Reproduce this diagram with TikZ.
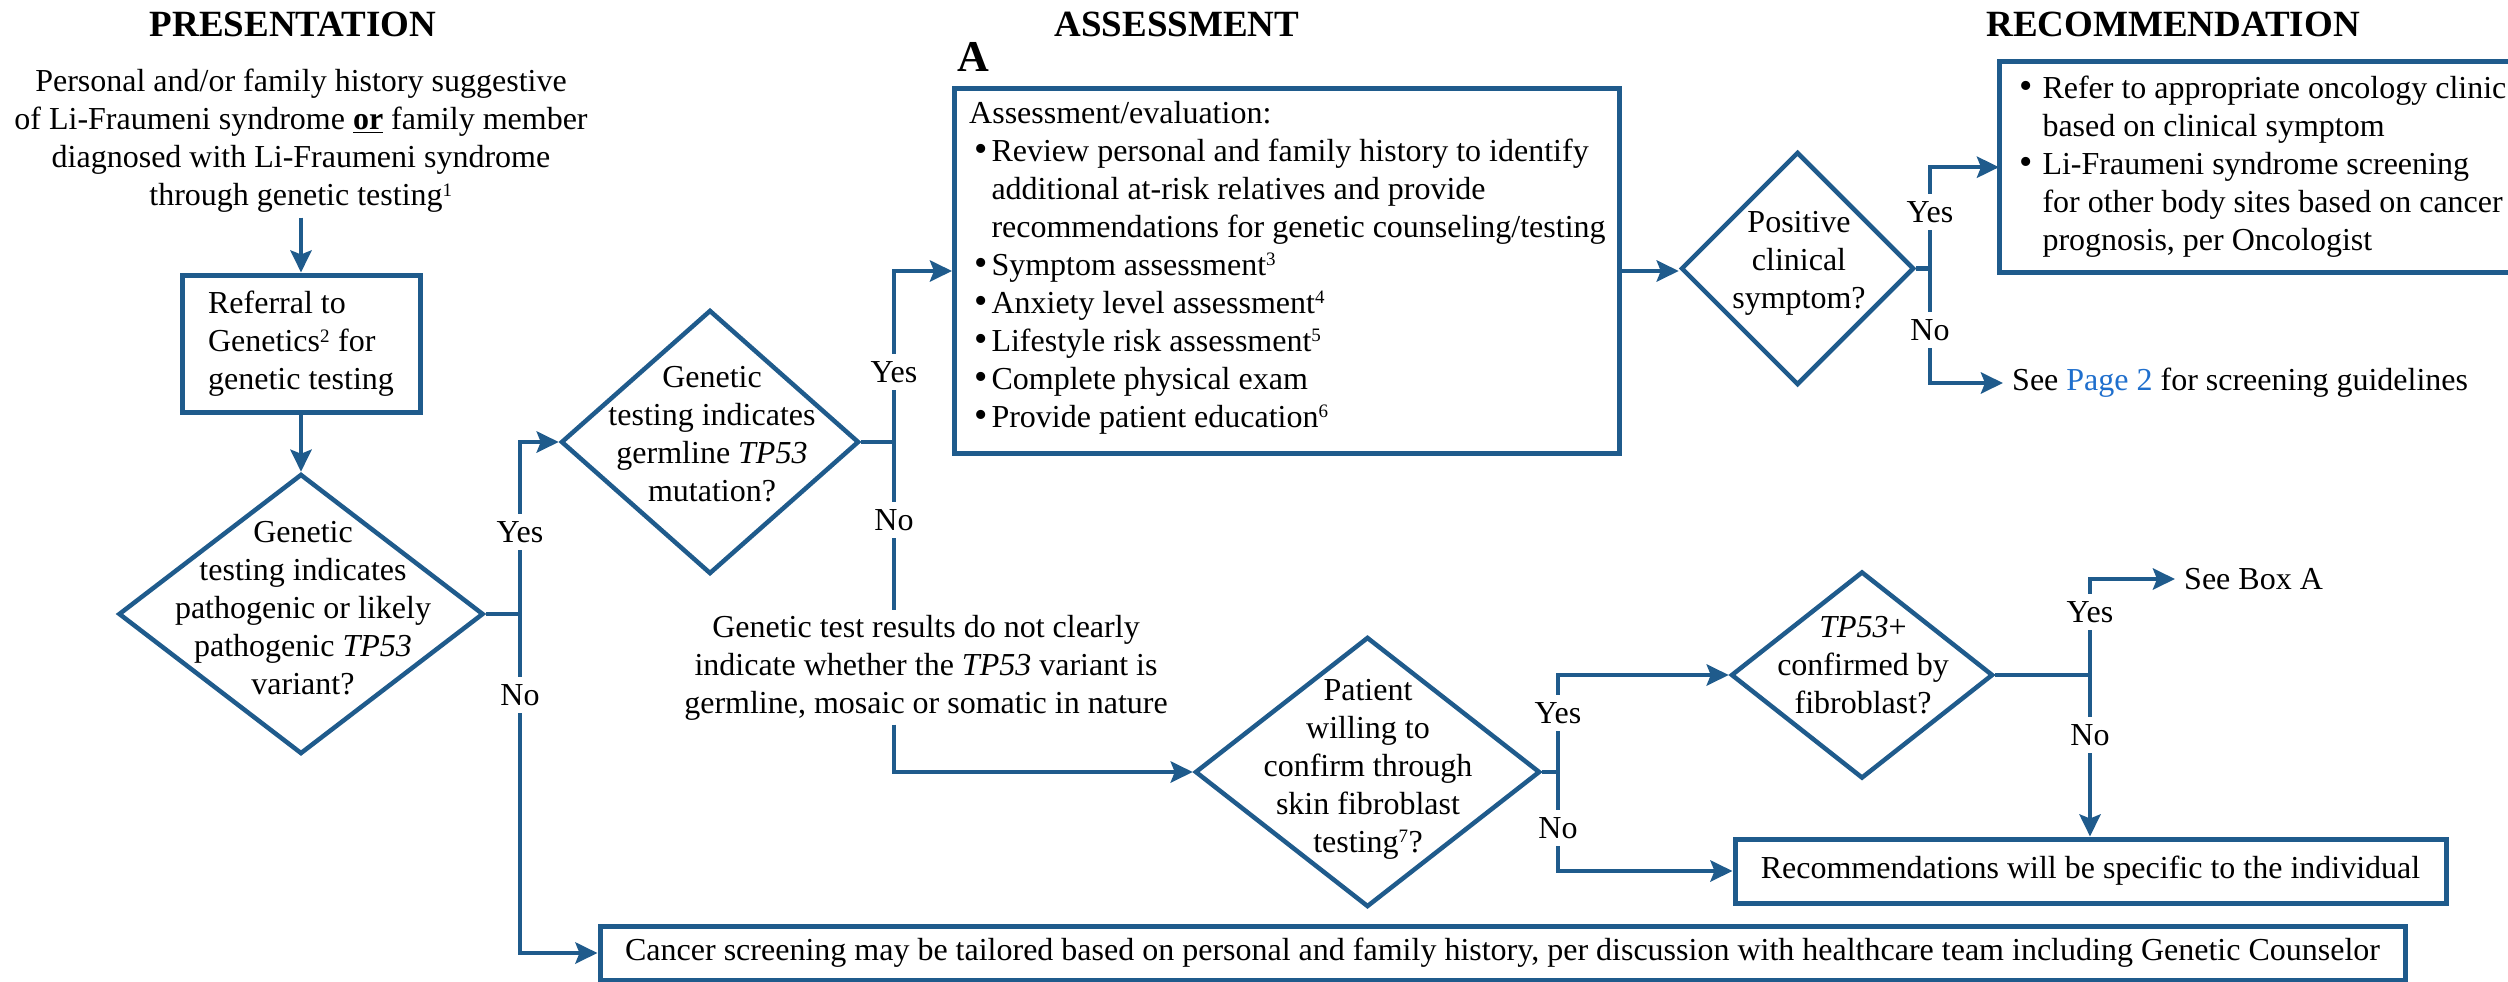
\documentclass[tikz,border=0pt]{standalone}
\usepackage{fontspec}
\setmainfont{Liberation Serif}
\usetikzlibrary{shapes.geometric,arrows.meta}
\definecolor{flow}{RGB}{31,91,140}
\definecolor{linkblue}{RGB}{31,111,205}
\newcommand\ctab[1]{\begin{tabular}[t]{@{}c@{}}#1\end{tabular}}
\newcommand\ltab[1]{\begin{tabular}[t]{@{}l@{}}#1\end{tabular}}
\newcommand\fnmark[1]{\textsuperscript{\fontsize{19}{19}\selectfont #1}}
\newcommand\bul{{\fontsize{38}{38}\selectfont\textbullet}}
\begin{document}
\begin{tikzpicture}[x=1pt,y=-1pt,
  every node/.style={font=\fontsize{32}{38}\selectfont, inner sep=0pt},
  box/.style={draw=flow, line width=5pt, rectangle},
  dia/.style={draw=flow, line width=4.5pt, diamond, inner sep=0pt},
  conn/.style={draw=flow, line width=4.5pt},
  arr/.style={conn, -{Stealth[length=22pt,width=21pt,inset=4pt]}},
  lbl/.style={fill=white, inner xsep=2pt, inner ysep=7pt},
  hdr/.style={font=\fontsize{37}{44}\selectfont\bfseries}]
\useasboundingbox[fill=white] (0,0) rectangle (2508,982);

% headers
\node[hdr, anchor=base] (h1) at (293,37) {PRESENTATION};
\node[hdr, anchor=base] (h2) at (1177,37) {ASSESSMENT};
\node[hdr, anchor=base] (h3) at (2173,37) {RECOMMENDATION};
\node[font=\fontsize{44}{50}\selectfont\bfseries, anchor=base west] (boxlabel) at (957,72) {A};

% presentation column
\node[anchor=base] (intro) at (301,92) {\ctab{Personal and/or family history suggestive\\ of Li-Fraumeni syndrome \textbf{\underline{or}} family member\\ diagnosed with Li-Fraumeni syndrome\\ through genetic testing\fnmark{1}}};
\node[box, minimum width=238, minimum height=137] (ref) at (301,343.5) {\ltab{Referral to\\ Genetics\fnmark{2} for\\ genetic testing}};
\node[dia, minimum width=365, minimum height=280] (d1) at (301,614) {};
\node[anchor=base] (d1t) at (303,542) {\ctab{Genetic\\ testing indicates\\ pathogenic or likely\\ pathogenic \textit{TP53}\\ variant?}};

% assessment column
\node[dia, minimum width=298, minimum height=264] (d2) at (710,442) {};
\node[anchor=base] (d2t) at (712,387) {\ctab{Genetic\\ testing indicates\\ germline \textit{TP53}\\ mutation?}};
\node[box, anchor=north west, minimum width=665, minimum height=365] (boxA) at (952,86) {};
\node[anchor=base west] (boxAt) at (969,123) {\begin{tabular}[t]{@{\hspace{5pt}}c@{\hspace{4pt}}l@{}}
\multicolumn{2}{@{}l@{}}{Assessment/evaluation:}\\
\bul & Review personal and family history to identify\\
 & additional at-risk relatives and provide\\
 & recommendations for genetic counseling/testing\\
\bul & Symptom assessment\fnmark{3}\\
\bul & Anxiety level assessment\fnmark{4}\\
\bul & Lifestyle risk assessment\fnmark{5}\\
\bul & Complete physical exam\\
\bul & Provide patient education\fnmark{6}
\end{tabular}};
\node[anchor=base] (gtr) at (926,637) {\ctab{Genetic test results do not clearly\\ indicate whether the \textit{TP53} variant is\\ germline, mosaic or somatic in nature}};
\node[dia, minimum width=345, minimum height=270] (d4) at (1367.5,772) {};
\node[anchor=base] (d4t) at (1368,700) {\ctab{Patient\\ willing to\\ confirm through\\ skin fibroblast\\ testing\fnmark{7}?}};
\node[dia, minimum width=233, minimum height=233] (d3) at (1797.5,268.5) {};
\node[anchor=base] (d3t) at (1799,232) {\ctab{Positive\\ clinical\\ symptom?}};
\node[dia, minimum width=262, minimum height=207] (d5) at (1862,675) {};
\node[anchor=base] (d5t) at (1863,637) {\ctab{\textit{TP53}+\\ confirmed by\\ fibroblast?}};

% recommendation column
\node[anchor=north west, minimum width=509, minimum height=210] (rec) at (1999,62) {};
\draw[flow, line width=5pt] (rec.north east) -- (rec.north west) -- (rec.south west) -- (rec.south east);
\node[anchor=base west] (rect) at (2019,98) {\begin{tabular}[t]{@{}c@{\hspace{10pt}}l@{}}
\bul & Refer to appropriate oncology clinic\\
 & based on clinical symptom\\
\bul & Li-Fraumeni syndrome screening\\
 & for other body sites based on cancer\\
 & prognosis, per Oncologist
\end{tabular}};
\node[anchor=west, inner xsep=9pt] (seep) at (2003,383) {See \textcolor{linkblue}{Page 2} for screening guidelines};
\node[anchor=west, inner xsep=9pt] (seeA) at (2175,579) {See Box A};
\node[box, minimum width=711, minimum height=64] (indiv) at (2090.5,871) {Recommendations will be specific to the individual};
\node[box, minimum width=1805, minimum height=54] (canc) at (1502.5,953) {Cancer screening may be tailored based on personal and family history, per discussion with healthcare team including Genetic Counselor};

% junctions
\coordinate (j1) at (520,614);
\coordinate (j2) at (894,442);
\coordinate (j3) at (1930,268.5);
\coordinate (j4) at (1558,772);
\coordinate (j5) at (2090,675);

% connectors
\draw[arr] (intro.south) -- (ref.north);
\draw[arr] (ref.south) -- (d1.north);
\draw[conn] (d1.east) -- (j1);
\draw[arr] (j1) |- (d2.west);
\draw[arr] (j1) |- (canc.west);
\draw[conn] (d2.east) -- (j2);
\draw[arr] (j2) |- (boxA.west);
\draw[conn] (j2) -- (j2 |- gtr.north);
\draw[arr] (j2 |- gtr.south) |- (d4.west);
\draw[arr] (boxA.east) -- (boxA.east -| d3.west);
\draw[conn] (d3.east) -- (j3);
\draw[arr] (j3) |- (rec.west);
\draw[arr] (j3) |- (seep.west);
\draw[conn] (d4.east) -- (j4);
\draw[arr] (j4) |- (d5.west);
\draw[arr] (j4) |- (indiv.west);
\draw[conn] (d5.east) -- (j5);
\draw[arr] (j5) |- (seeA.west);
\draw[arr] (j5) -- (j5 |- indiv.north);

% yes / no labels
\node[lbl] (y1) at (520,532) {Yes};
\node[lbl] (n1) at (520,695) {No};
\node[lbl] (y2) at (894,372) {Yes};
\node[lbl] (n2) at (894,520) {No};
\node[lbl] (y3) at (1930,212) {Yes};
\node[lbl] (n3) at (1930,330) {No};
\node[lbl] (y4) at (1558,713) {Yes};
\node[lbl] (n4) at (1558,828) {No};
\node[lbl] (y5) at (2090,612) {Yes};
\node[lbl] (n5) at (2090,735) {No};
\end{tikzpicture}
\end{document}
